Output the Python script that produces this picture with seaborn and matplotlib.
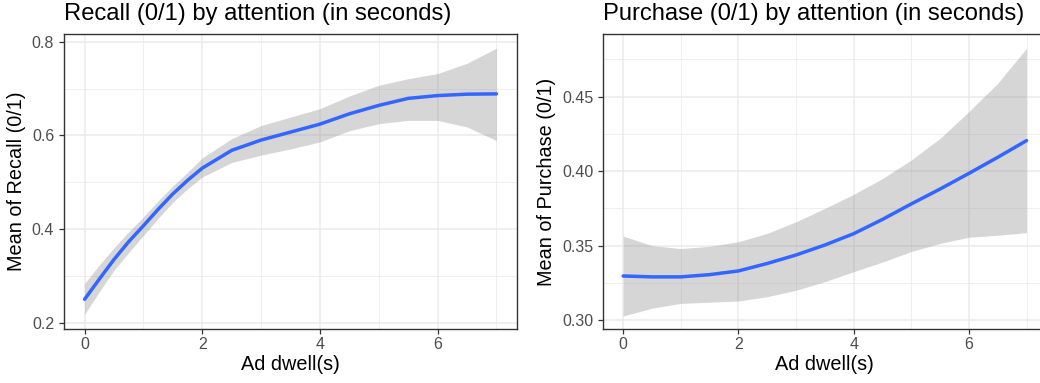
import numpy as np
import pandas as pd
import matplotlib
matplotlib.use("Agg")
import matplotlib.pyplot as plt
import seaborn as sns
from matplotlib.ticker import MultipleLocator

# ---- data ----
recall_dwell = [0.0, 0.25, 0.5, 0.75, 1.0, 1.25, 1.5, 1.75, 2.0, 2.5, 3.0, 3.5, 4.0, 4.5,
                5.0, 5.5, 6.0, 6.5, 7.0]
recall_mean = [0.250, 0.293, 0.335, 0.373, 0.407, 0.442, 0.475, 0.504, 0.530, 0.568,
               0.590, 0.607, 0.624, 0.646, 0.664, 0.679, 0.685, 0.688, 0.6886]
recall_lo = [0.218, 0.266, 0.312, 0.350, 0.386, 0.423, 0.457, 0.486, 0.511, 0.542,
             0.558, 0.571, 0.586, 0.610, 0.625, 0.632, 0.632, 0.618, 0.589]
recall_hi = [0.284, 0.323, 0.360, 0.394, 0.426, 0.460, 0.492, 0.521, 0.552, 0.593,
             0.621, 0.639, 0.657, 0.684, 0.707, 0.721, 0.732, 0.754, 0.786]

purchase_dwell = [0.0, 0.5, 1.0, 1.5, 2.0, 2.5, 3.0, 3.5, 4.0, 4.5, 5.0, 5.5, 6.0, 6.5, 7.0]
purchase_mean = [0.3296, 0.3290, 0.3290, 0.3305, 0.3330, 0.3380, 0.3437, 0.3504, 0.3580,
                 0.3676, 0.3780, 0.3880, 0.3985, 0.4093, 0.4205]
purchase_lo = [0.3027, 0.3080, 0.3112, 0.3120, 0.3128, 0.3157, 0.3200, 0.3258, 0.3325,
               0.3390, 0.3460, 0.3515, 0.3556, 0.3570, 0.3587]
purchase_hi = [0.3564, 0.3500, 0.3480, 0.3495, 0.3526, 0.3582, 0.3660, 0.3750, 0.3844,
               0.3950, 0.4075, 0.4220, 0.4400, 0.4590, 0.4825]

titles = ["Recall (0/1) by attention (in seconds)", "Purchase (0/1) by attention (in seconds)"]
ylabels = ["Mean of Recall (0/1)", "Mean of Purchase (0/1)"]
xlabel = "Ad dwell(s)"

sns.set_theme(style="white")
plt.rcParams['font.family'] = ['Liberation Sans', 'DejaVu Sans']

W, H = 1040, 383
fig = plt.figure(figsize=(10.4, 3.83), dpi=100)
ax1 = fig.add_axes([64/W, 54/H, 453/W, 295/H])
ax2 = fig.add_axes([603/W, 54/H, 443.7/W, 295/H])

panels = [
    (ax1, recall_dwell, recall_mean, recall_lo, recall_hi, (0.1865, 0.8165), 0.2, 0.1, "{:.1f}"),
    (ax2, purchase_dwell, purchase_mean, purchase_lo, purchase_hi, (0.294, 0.4921), 0.05,
     0.025, "{:.2f}"),
]

for i, (ax, x, m, lo, hi, ylim, maj, mnr, fmt) in enumerate(panels):
    df = pd.DataFrame({"dwell": x, "mean": m, "lo": lo, "hi": hi})
    ax.fill_between(df["dwell"], df["lo"], df["hi"], color="#999999", alpha=0.4,
                    linewidth=0, zorder=2)
    sns.lineplot(data=df, x="dwell", y="mean", ax=ax, color="#3366FF", linewidth=2.5,
                 zorder=3)
    ax.set_xlim(-0.35, 7.35)
    ax.set_ylim(*ylim)
    ax.xaxis.set_major_locator(MultipleLocator(2))
    ax.xaxis.set_minor_locator(MultipleLocator(1))
    ax.yaxis.set_major_locator(MultipleLocator(maj))
    ax.yaxis.set_minor_locator(MultipleLocator(mnr))
    ax.set_yticks([t for t in ax.get_yticks() if ylim[0] <= t <= ylim[1]])
    ax.set_yticklabels([fmt.format(t) for t in ax.get_yticks()])
    ax.grid(True, which="major", color="#EBEBEB", linewidth=1.1, zorder=0)
    ax.grid(True, which="minor", color="#EBEBEB", linewidth=0.55, zorder=0)
    ax.set_axisbelow(True)
    for s in ax.spines.values():
        s.set_color("#333333")
        s.set_linewidth(1.0)
    ax.tick_params(axis="both", which="major", length=3.6, width=0.9, color="#333333",
                   labelsize=11.5, labelcolor="#4D4D4D", bottom=True, left=True)
    ax.tick_params(axis="x", which="major", pad=2.2)
    ax.tick_params(axis="y", which="major", pad=3.5)
    ax.tick_params(axis="both", which="minor", length=0)
    ax.set_xlabel(xlabel, fontsize=14.3, color="black")
    ax.xaxis.set_label_coords(0.5, -26.5/295)
    ax.set_ylabel(ylabels[i], fontsize=14.3, color="black")
    ax.set_title(titles[i], fontsize=17.1, loc="left", pad=10, color="black")

ax1.yaxis.set_label_coords((26.5 - 64)/453, 0.5)
ax2.yaxis.set_label_coords((555.5 - 603)/443.7, 0.5)

fig.savefig("out.png", dpi=100, facecolor="white")
